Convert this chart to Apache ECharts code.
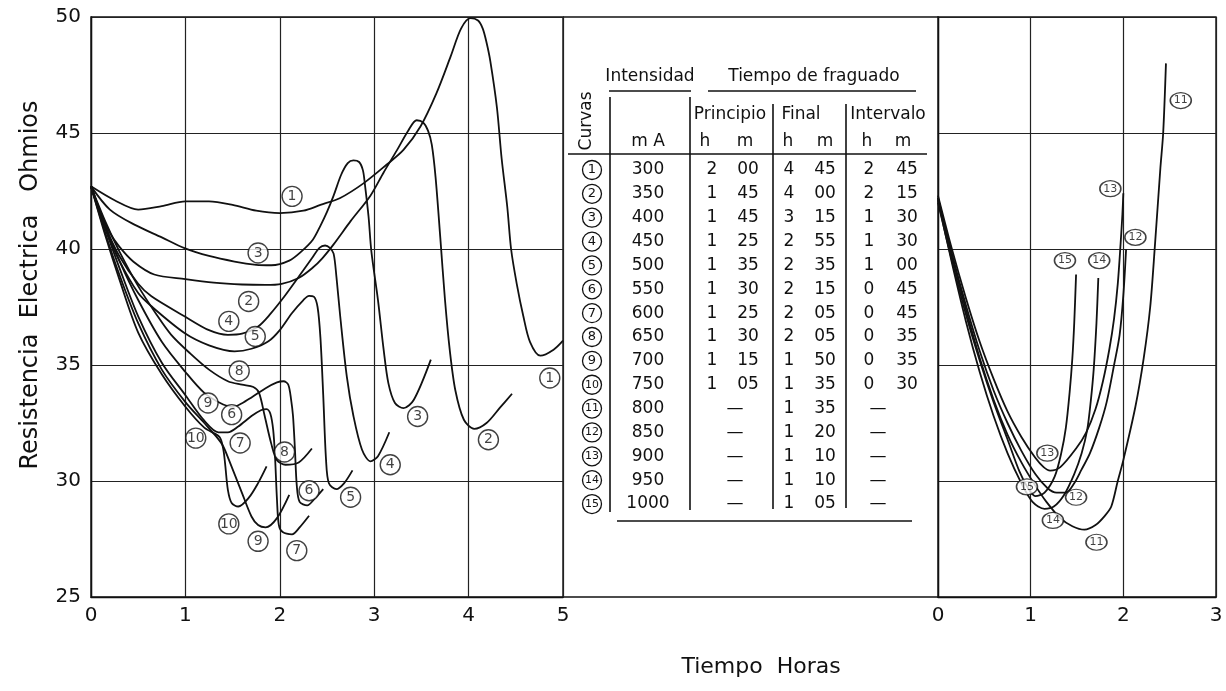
<!DOCTYPE html>
<html>
<head>
<meta charset="utf-8">
<title>Resistencia electrica - tiempo de fraguado</title>
<script src="https://cdn.jsdelivr.net/npm/echarts@6/dist/echarts.min.js"></script>
<style>
html,body{margin:0;padding:0;background:#fff;}
#chart{width:1226px;height:691px;}
</style>
</head>
<body>
<div id="chart"></div>
<script>
//curvas del panel izquierdo: [horas, ohmios]
var curva1 = [[0,42.7],[0.25,42.1],[0.5,41.7],[0.75,41.85],[1.0,42.05],[1.25,42.05],[1.5,41.9],[1.75,41.65],[2.0,41.55],[2.25,41.65],[2.43,41.9],[2.64,42.2],[2.89,42.84],[3.13,43.63],[3.31,44.27],[3.49,45.28],[3.66,46.72],[3.81,48.3],[3.92,49.5],[4.02,49.95],[4.1,49.85],[4.15,49.5],[4.19,48.9],[4.23,48.1],[4.30,46.1],[4.35,43.9],[4.41,41.8],[4.45,40.0],[4.51,38.5],[4.58,37.1],[4.65,36.0],[4.76,35.4],[4.9,35.66],[5.0,36.05]];
var curva2 = [[0,42.7],[0.1,41.6],[0.2,40.7],[0.3,40.1],[0.45,39.45],[0.67,38.9],[1.0,38.7],[1.3,38.55],[1.6,38.47],[1.85,38.45],[2.02,38.5],[2.2,38.75],[2.35,39.2],[2.45,39.6],[2.57,40.2],[2.75,41.2],[2.96,42.3],[3.1,43.3],[3.24,44.25],[3.36,45.1],[3.45,45.55],[3.52,45.45],[3.57,45.1],[3.61,44.5],[3.65,43.1],[3.70,40.5],[3.75,37.8],[3.8,35.66],[3.86,33.9],[3.95,32.64],[4.06,32.25],[4.19,32.5],[4.33,33.15],[4.46,33.76]];
var curva3 = [[0,42.7],[0.2,41.7],[0.46,41.05],[0.75,40.5],[0.99,40.04],[1.25,39.7],[1.52,39.46],[1.75,39.32],[1.91,39.3],[2.1,39.5],[2.23,39.9],[2.35,40.4],[2.43,41.0],[2.5,41.6],[2.57,42.3],[2.65,43.2],[2.72,43.7],[2.78,43.82],[2.84,43.75],[2.88,43.4],[2.90,42.84],[2.94,41.4],[2.97,39.9],[3.04,37.8],[3.10,35.66],[3.15,34.22],[3.22,33.36],[3.31,33.14],[3.42,33.5],[3.6,35.23]];
var curva4 = [[0,42.7],[0.15,41.0],[0.3,39.7],[0.5,38.5],[0.64,37.96],[0.99,37.1],[1.25,36.5],[1.45,36.3],[1.6,36.35],[1.77,36.66],[1.9,37.2],[2.05,37.96],[2.2,38.8],[2.34,39.6],[2.42,40.05],[2.48,40.15],[2.53,40.05],[2.57,39.8],[2.6,38.8],[2.64,37.1],[2.71,34.5],[2.78,32.8],[2.87,31.36],[2.96,30.85],[3.04,31.07],[3.16,32.1]];
var curva5 = [[0,42.7],[0.15,40.9],[0.3,39.5],[0.5,38.1],[0.64,37.53],[0.99,36.38],[1.25,35.85],[1.52,35.59],[1.7,35.7],[1.88,36.02],[2.0,36.5],[2.13,37.24],[2.25,37.8],[2.31,37.98],[2.36,37.95],[2.40,37.5],[2.43,36.2],[2.46,33.7],[2.49,30.9],[2.52,29.9],[2.6,29.65],[2.68,29.9],[2.77,30.46]];
var curva6 = [[0,42.7],[0.15,41.0],[0.3,39.5],[0.5,37.8],[0.75,36.0],[1.0,34.7],[1.2,33.8],[1.4,33.3],[1.51,33.2],[1.6,33.35],[1.7,33.6],[1.85,34.0],[1.97,34.25],[2.04,34.3],[2.09,34.15],[2.12,33.5],[2.14,32.8],[2.16,31.4],[2.18,29.8],[2.21,29.1],[2.29,28.95],[2.37,29.24],[2.46,29.65]];
var curva7 = [[0,42.7],[0.15,40.9],[0.3,39.2],[0.5,37.1],[0.75,35.1],[1.0,33.7],[1.2,32.6],[1.35,32.1],[1.45,32.1],[1.56,32.35],[1.7,32.8],[1.8,33.05],[1.86,33.1],[1.9,32.9],[1.93,32.2],[1.95,31.0],[1.97,29.2],[1.99,28.1],[2.03,27.8],[2.13,27.7],[2.21,28.0],[2.31,28.5]];
var curva8 = [[0,42.7],[0.15,41.2],[0.3,39.9],[0.5,38.4],[0.69,37.2],[0.85,36.3],[1.05,35.5],[1.25,34.8],[1.45,34.3],[1.6,34.15],[1.72,34.05],[1.78,33.8],[1.84,32.8],[1.91,31.6],[1.97,30.9],[2.06,30.7],[2.2,30.8],[2.34,31.4]];
var curva9 = [[0,42.7],[0.15,40.7],[0.3,38.9],[0.5,36.8],[0.75,34.8],[1.0,33.4],[1.2,32.5],[1.33,31.9],[1.4,31.5],[1.46,30.92],[1.6,29.48],[1.7,28.47],[1.77,28.1],[1.85,28.0],[1.97,28.4],[2.1,29.4]];
var curva10 = [[0,42.7],[0.15,40.6],[0.3,38.7],[0.5,36.4],[0.75,34.6],[1.0,33.2],[1.2,32.3],[1.36,31.9],[1.4,31.4],[1.42,30.77],[1.45,29.62],[1.49,29.05],[1.56,28.9],[1.67,29.27],[1.77,29.91],[1.86,30.63]];
//curvas del panel derecho
var curva11 = [[0,42.2],[0.15,39.7],[0.3,37.4],[0.45,35.3],[0.6,33.5],[0.75,32.0],[0.9,30.8],[1.05,29.8],[1.17,29.1],[1.32,28.4],[1.45,28.05],[1.58,27.9],[1.7,28.1],[1.8,28.5],[1.87,28.9],[1.94,30.0],[2.0,30.9],[2.13,33.2],[2.22,35.3],[2.29,37.5],[2.34,40.1],[2.4,43.5],[2.43,45.0],[2.46,48.0]];
var curva12 = [[0,42.2],[0.15,39.8],[0.3,37.6],[0.45,35.6],[0.6,33.9],[0.75,32.5],[0.9,31.3],[1.05,30.3],[1.18,29.7],[1.28,29.5],[1.38,29.5],[1.47,29.9],[1.55,30.5],[1.64,31.2],[1.74,32.3],[1.82,33.4],[1.9,35.0],[1.96,36.3],[2.0,38.0],[2.03,40.0]];
var curva13 = [[0,42.3],[0.15,40.0],[0.3,37.9],[0.45,36.0],[0.6,34.4],[0.75,33.0],[0.9,31.9],[1.05,31.0],[1.14,30.6],[1.21,30.45],[1.32,30.6],[1.49,31.4],[1.6,32.1],[1.7,33.1],[1.78,34.3],[1.85,35.7],[1.9,37.0],[1.94,38.5],[1.97,40.2],[1.99,41.5],[2.0,42.4]];
var curva14 = [[0,42.1],[0.15,39.4],[0.3,36.9],[0.45,34.7],[0.6,32.8],[0.75,31.2],[0.9,29.9],[1.02,29.1],[1.15,28.8],[1.25,28.9],[1.36,29.4],[1.47,30.3],[1.55,31.2],[1.61,32.2],[1.65,33.5],[1.68,34.8],[1.71,36.8],[1.73,38.75]];
var curva15 = [[0,42.0],[0.15,39.5],[0.3,37.2],[0.45,35.2],[0.6,33.4],[0.75,31.8],[0.88,30.4],[0.97,29.7],[1.05,29.35],[1.15,29.5],[1.26,30.2],[1.33,31.2],[1.38,32.3],[1.42,33.8],[1.45,35.3],[1.47,36.8],[1.49,38.9]];

//etiquetas numeradas [horas, ohmios, curva]
var etiquetasIzq = [[2.13,42.27,1],[4.86,34.44,1],[1.67,37.74,2],[4.21,31.78,2],[1.77,39.83,3],[3.46,32.78,3],[1.46,36.88,4],[3.17,30.7,4],[1.74,36.23,5],[2.75,29.3,5],[1.49,32.86,6],[2.31,29.58,6],[1.58,31.64,7],[2.18,27.0,7],[1.57,34.74,8],[2.05,31.25,8],[1.24,33.36,9],[1.77,27.4,9],[1.11,31.85,10],[1.46,28.15,10]];
var etiquetasDer = [[2.62,46.4,11],[1.71,27.36,11],[2.13,40.5,12],[1.49,29.3,12],[1.86,42.6,13],[1.18,31.2,13],[1.74,39.5,14],[1.24,28.3,14],[1.37,39.5,15],[0.96,29.75,15]];

//tabla
var intensidad = ['300','350','400','450','500','550','600','650','700','750','800','850','900','950','1000'];
var principioH = ['2','1','1','1','1','1','1','1','1','1',null,null,null,null,null];
var principioM = ['00','45','45','25','35','30','25','30','15','05',null,null,null,null,null];
var finalH = ['4','4','3','2','2','2','2','2','1','1','1','1','1','1','1'];
var finalM = ['45','00','15','55','35','15','05','05','50','35','35','20','10','10','05'];
var intervaloH = ['2','2','1','1','1','0','0','0','0','0',null,null,null,null,null];
var intervaloM = ['45','15','30','30','00','45','45','35','35','30',null,null,null,null,null];

var ejeXizq = [0,1,2,3,4,5];
var ejeXder = [0,1,2,3];

var FUENTE = "'DejaVu Sans',sans-serif";
var TINTA = '#111';

var gridIzq = {left:91, top:17, width:472, height:580};
var gridDer = {left:938, top:17, width:278, height:580};

function serieCurva(datos, idx){
	return {
		type:'line',
		data:datos,
		xAxisIndex:idx,
		yAxisIndex:idx,
		smooth:0.3,
		showSymbol:false,
		silent:true,
		lineStyle:{color:TINTA, width:1.8},
		z:3
	};
}

function serieEtiquetas(datos, idx, tam, fs){
	return {
		type:'scatter',
		data:datos,
		xAxisIndex:idx,
		yAxisIndex:idx,
		symbol:'circle',
		symbolSize:tam,
		silent:true,
		itemStyle:{color:'#fff', borderColor:TINTA, borderWidth:1.4},
		label:{show:true, position:'inside', color:TINTA, fontFamily:FUENTE, fontSize:fs,
			formatter:function(p){ return p.value[2]; }},
		z:5
	};
}

function ejeX(idx, max){
	return {
		type:'value', gridIndex:idx, min:0, max:max, interval:1,
		axisLine:{show:true, lineStyle:{color:TINTA, width:1.4}},
		axisTick:{show:false},
		axisLabel:{color:TINTA, fontFamily:FUENTE, fontSize:20, margin:9},
		splitLine:{show:true, lineStyle:{color:'#222', width:1.2}}
	};
}

function ejeY(idx, labels){
	return {
		type:'value', gridIndex:idx, min:25, max:50, interval:5,
		axisLine:{show:true, lineStyle:{color:TINTA, width:1.4}},
		axisTick:{show:false},
		axisLabel:{show:labels, color:TINTA, fontFamily:FUENTE, fontSize:20, margin:10},
		splitLine:{show:true, lineStyle:{color:'#222', width:1.2}}
	};
}

//graficos de la tabla
function texto(t, x, y, fs, extra){
	var el = {type:'text', x:x, y:y, silent:true,
		style:{text:t, font:(fs||17)+'px '+FUENTE, fill:TINTA,
			textAlign:'center', textVerticalAlign:'middle', align:'center', verticalAlign:'middle'}};
	if(extra){ for(var k in extra){ el[k]=extra[k]; } }
	return el;
}
function linea(x1,y1,x2,y2,w){
	return {type:'line', silent:true, shape:{x1:x1,y1:y1,x2:x2,y2:y2}, style:{stroke:TINTA, lineWidth:w||1.6}};
}
function circulo(cx,cy,r){
	return {type:'circle', silent:true, shape:{cx:cx,cy:cy,r:r}, style:{fill:'#fff', stroke:TINTA, lineWidth:1.3}};
}

function tabla(){
	var g = [];
	var fila0 = 170, paso = 23.86;
	var ultima = fila0 + paso*(intensidad.length-1);
	//cabecera
	g.push(texto('Intensidad', 650, 77, 17));
	g.push(linea(609, 91, 691, 91, 1.5));
	g.push(texto('Tiempo de fraguado', 814, 77, 17));
	g.push(linea(708, 91, 916, 91, 1.5));
	g.push(texto('Curvas', 587, 121, 17, {rotation:Math.PI/2}));
	g.push(texto('Principio', 730, 115, 17));
	g.push(texto('Final', 801, 115, 17));
	g.push(texto('Intervalo', 888, 115, 17));
	g.push(texto('m A', 648, 142, 17));
	var hm = [[705,'h'],[745,'m'],[788,'h'],[825,'m'],[867,'h'],[903,'m']];
	for(var j=0;j<hm.length;j++){ g.push(texto(hm[j][1], hm[j][0], 142, 17)); }
	//lineas
	g.push(linea(568, 154, 927, 154, 1.6));
	g.push(linea(610, 97, 610, ultima+8, 1.6));
	g.push(linea(690, 97, 690, ultima+6, 1.6));
	g.push(linea(773, 104, 773, ultima+5, 1.6));
	g.push(linea(846, 104, 846, ultima+4, 1.6));
	g.push(linea(617, ultima+17, 912, ultima+17, 1.6));
	//filas
	for(var i=0;i<intensidad.length;i++){
		var y = fila0 + paso*i;
		g.push(circulo(592, y, 9.5));
		g.push(texto(String(i+1), 592, y, i<9?13:11));
		g.push(texto(intensidad[i], 648, y));
		if(principioH[i]!==null){
			g.push(texto(principioH[i], 712, y));
			g.push(texto(principioM[i], 748, y));
		}else{
			g.push(texto('\u2014', 735, y));
		}
		g.push(texto(finalH[i], 789, y));
		g.push(texto(finalM[i], 825, y));
		if(intervaloH[i]!==null){
			g.push(texto(intervaloH[i], 869, y));
			g.push(texto(intervaloM[i], 907, y));
		}else{
			g.push(texto('\u2014', 878, y));
		}
	}
	//marco central
	var xa = gridIzq.left+gridIzq.width, xb = gridDer.left;
	g.push(linea(xa, gridIzq.top, xb, gridIzq.top, 1.4));
	g.push(linea(xa, gridIzq.top+gridIzq.height, xb, gridIzq.top+gridIzq.height, 1.4));
	//titulos de ejes
	g.push(texto('Resistencia  Electrica   Ohmios', 31, 285, 24, {rotation:Math.PI/2}));
	g.push(texto('Tiempo  Horas', 761, 667, 22));
	return g;
}

var chart = echarts.init(document.getElementById('chart'), null, {renderer:'canvas'});
var curvasIzq = [curva1,curva2,curva3,curva4,curva5,curva6,curva7,curva8,curva9,curva10];
var curvasDer = [curva11,curva12,curva13,curva14,curva15];
var series = [];
for(var a=0;a<curvasIzq.length;a++){ series.push(serieCurva(curvasIzq[a],0)); }
for(var b=0;b<curvasDer.length;b++){ series.push(serieCurva(curvasDer[b],1)); }
series.push(serieEtiquetas(etiquetasIzq, 0, 20, 14));
series.push(serieEtiquetas(etiquetasDer, 1, [21,16], 11));

var option = {
	animation:false,
	backgroundColor:'#fff',
	grid:[
		{left:gridIzq.left, top:gridIzq.top, width:gridIzq.width, height:gridIzq.height, show:true, borderColor:TINTA, borderWidth:1.4, containLabel:false, outerBoundsMode:'none'},
		{left:gridDer.left, top:gridDer.top, width:gridDer.width, height:gridDer.height, show:true, borderColor:TINTA, borderWidth:1.4, containLabel:false, outerBoundsMode:'none'}
	],
	xAxis:[ejeX(0, ejeXizq[ejeXizq.length-1]), ejeX(1, ejeXder[ejeXder.length-1])],
	yAxis:[ejeY(0, true), ejeY(1, false)],
	series:series,
	graphic:tabla()
};
chart.setOption(option);
</script>
</body>
</html>
